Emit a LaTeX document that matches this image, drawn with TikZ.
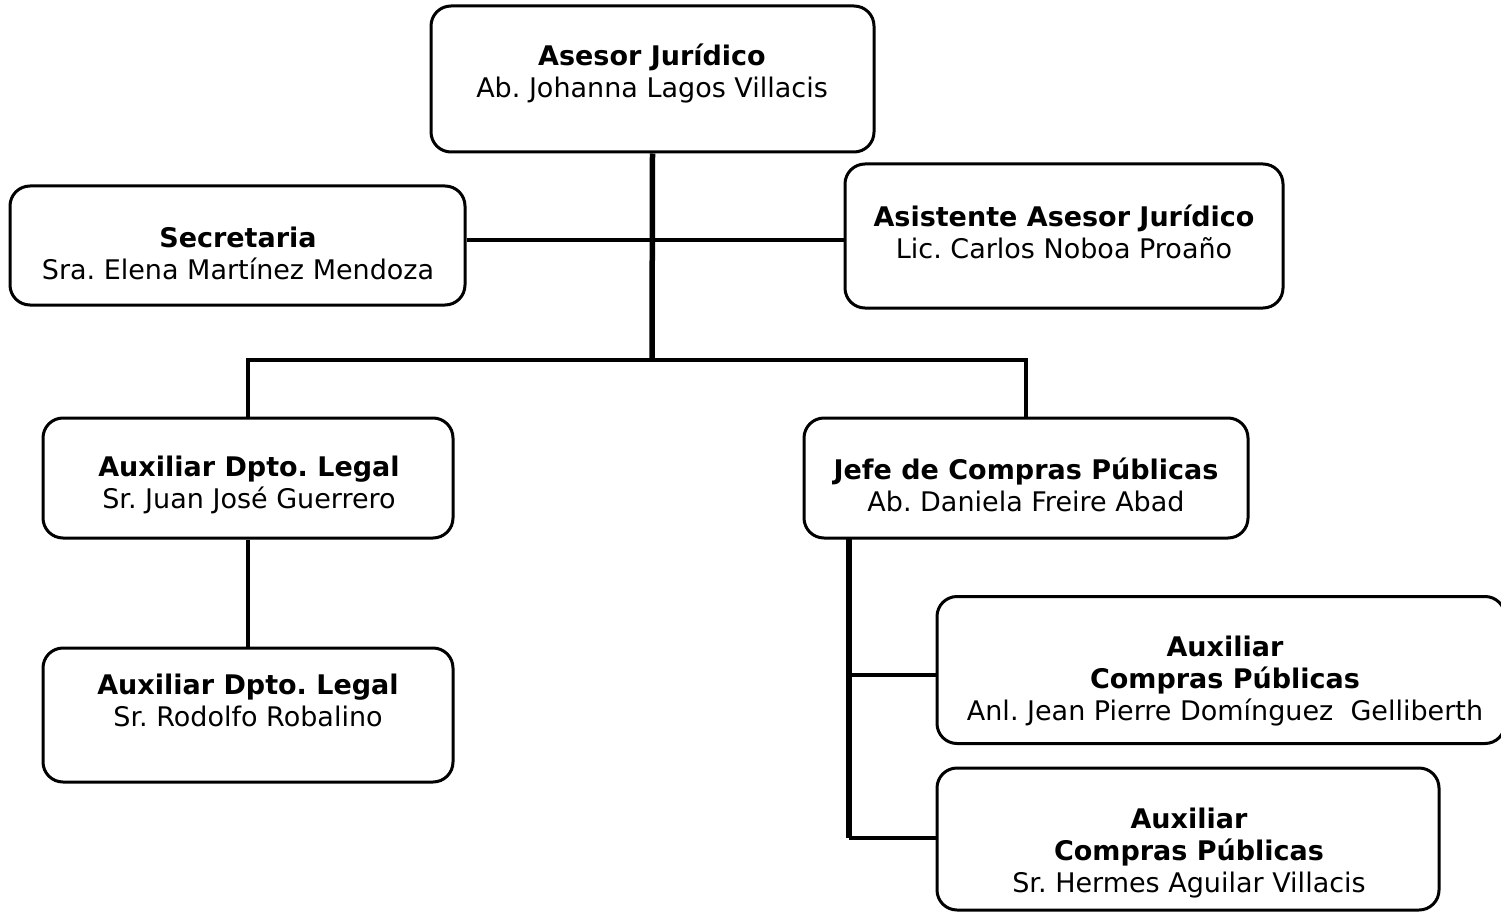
\documentclass[tikz,border=0pt]{standalone}
\usepackage{fontspec}
\setmainfont{DejaVu Sans}
\frenchspacing
\begin{document}
\begin{tikzpicture}[x=1pt,y=-1pt,
  box/.style={draw, line width=3pt, rounded corners=20pt, inner sep=0pt},
  txt/.style={align=center, font=\fontsize{27}{32}\selectfont, inner sep=0pt},
  thinline/.style={line width=3.2pt},
  thickline/.style={line width=5.5pt}]
\useasboundingbox (0,0) rectangle (1501,912);
% boxes
\node[box, minimum width=443pt, minimum height=146pt] (top)  at (652.5,79) {};
\node[box, minimum width=455pt, minimum height=119pt] (sec)  at (237.5,245.5) {};
\node[box, minimum width=438pt, minimum height=144pt] (asis) at (1064,236) {};
\node[box, minimum width=410pt, minimum height=120pt] (aux1) at (248,478) {};
\node[box, minimum width=444pt, minimum height=120pt] (jefe) at (1026,478) {};
\node[box, minimum width=410pt, minimum height=134pt] (aux2) at (248,715) {};
\node[box, minimum width=568pt, minimum height=147pt] (cp1)  at (1221,670) {};
\node[box, minimum width=502pt, minimum height=142pt] (cp2)  at (1188,839) {};
% texts
\node[txt] (ttop)  at (652,74)   {\textbf{Asesor Jurídico}\\Ab. Johanna Lagos Villacis};
\node[txt] (tsec)  at (238,253)  {\textbf{Secretaria}\\Sra. Elena Martínez Mendoza};
\node[txt] (tasis) at (1064,232) {\textbf{Asistente Asesor Jurídico}\\Lic. Carlos Noboa Proaño};
\node[txt] (taux1) at (249,485)  {\textbf{Auxiliar Dpto. Legal}\\Sr. Juan José Guerrero};
\node[txt] (tjefe) at (1026,485) {\textbf{Jefe de Compras Públicas}\\Ab. Daniela Freire Abad};
\node[txt] (taux2) at (248,700.5) {\textbf{Auxiliar Dpto. Legal}\\Sr. Rodolfo Robalino};
\node[txt] (tcp1)  at (1225,681) {\textbf{Auxiliar}\\\textbf{Compras Públicas}\\Anl. Jean Pierre Domínguez\ \ Gelliberth};
\node[txt] (tcp2)  at (1189,853) {\textbf{Auxiliar}\\\textbf{Compras Públicas}\\Sr. Hermes Aguilar Villacis};
% junctions
\coordinate (j0) at (652,240);
\coordinate (j1) at (652,360);
\coordinate (j2) at (849,538);
\coordinate (j4) at (849,675);
\coordinate (j3) at (849,838);
% connectors
\draw[thinline] (sec.east |- j0) -- (asis.west |- j0);
\draw[thinline] (aux1.north) |- (j1) -| (jefe.north);
\draw[thickline] (top.south) -- (j1);
\draw[thinline] (aux1.south) -- (aux2.north);
\draw[thickline] (j2) -- (j3);
\draw[thinline] (j4) -- (j4 -| cp1.west);
\draw[thinline] (j3) -- (j3 -| cp2.west);
\end{tikzpicture}
\end{document}
